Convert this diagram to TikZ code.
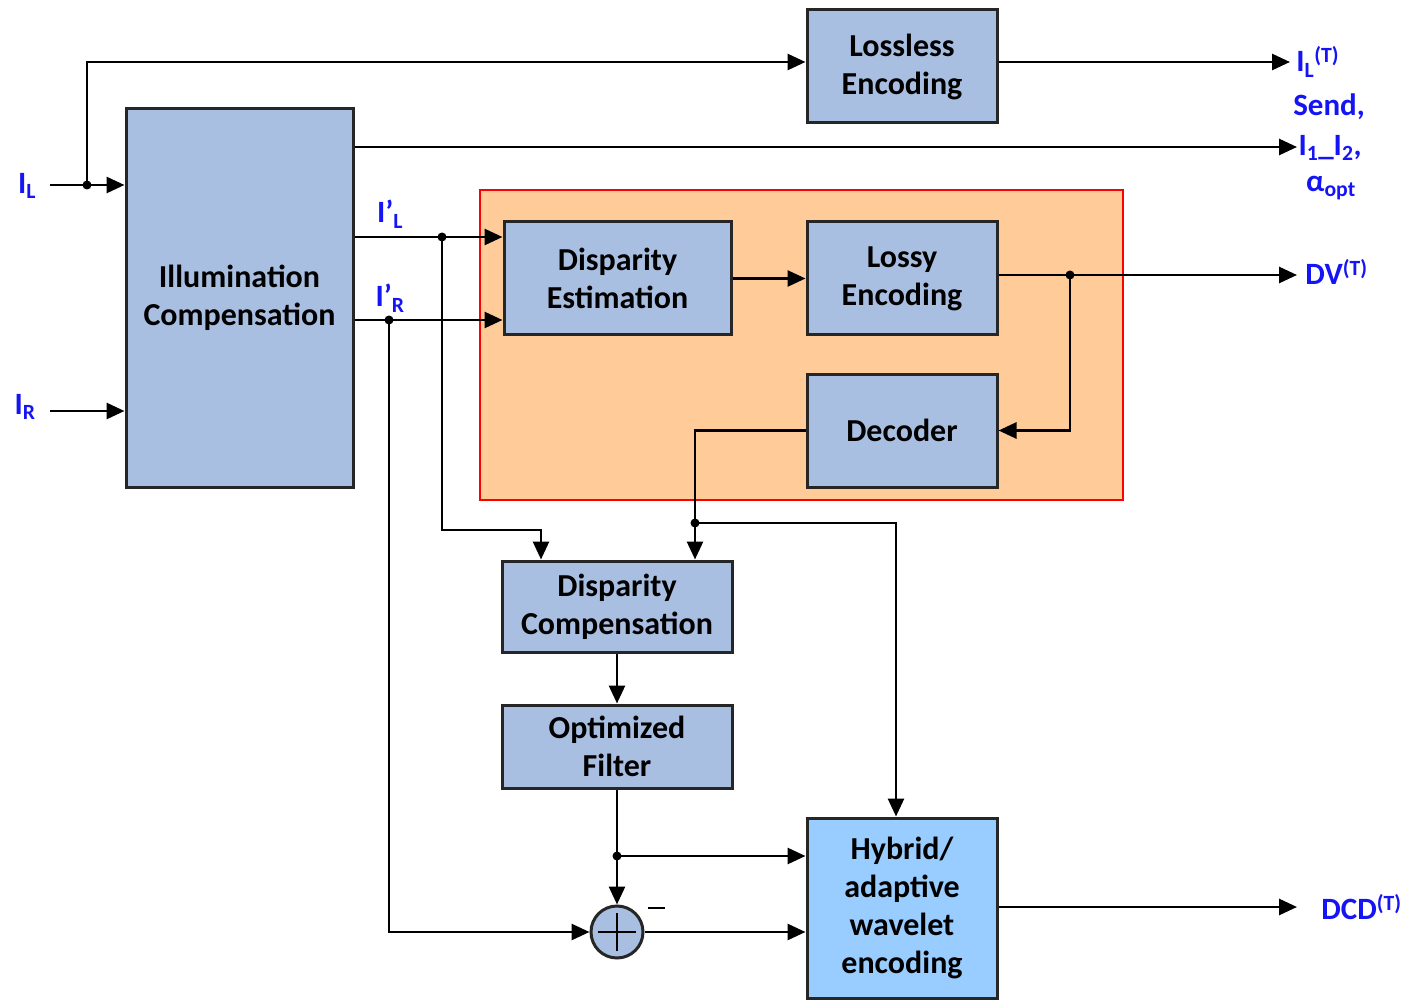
\documentclass[tikz,border=0pt]{standalone}
\usepackage{fontspec}
\setmainfont{Carlito}
\usetikzlibrary{arrows.meta}
\definecolor{boxblue}{RGB}{169,191,226}
\definecolor{hybblue}{RGB}{153,204,255}
\definecolor{zonefill}{RGB}{255,204,153}
\definecolor{sigblue}{RGB}{20,20,245}
\begin{document}
\begin{tikzpicture}[x=1pt,y=-1pt,line width=2.8pt,
  >={Triangle[length=18pt,width=16pt]},
  blk/.style={draw=black!85,line width=3pt,fill=boxblue,align=center,inner sep=0pt,
    font=\fontsize{32}{38}\selectfont\bfseries},
  lbl/.style={text=sigblue,inner sep=0pt,font=\fontsize{31}{34}\selectfont\bfseries},
  junc/.style={circle,fill=black,inner sep=0pt,minimum size=9pt}]
\useasboundingbox (0,0) rectangle (1406,1000);

% encoder zone
\draw[red,fill=zonefill,line width=2.2pt] (480,190) rectangle (1123,500);

% blocks
\node[blk,minimum width=190pt,minimum height=113pt] (loss) at (902,66.5) {Lossless\\Encoding};
\node[blk,minimum width=227pt,minimum height=378pt] (ill) at (239.5,298) {Illumination\\Compensation};
\node[blk,minimum width=227pt,minimum height=113pt] (de) at (617.5,278.5) {Disparity\\Estimation};
\node[blk,minimum width=190pt,minimum height=113pt] (le) at (902,278.5) {Lossy\\Encoding};
\node[blk,minimum width=190pt,minimum height=113pt] (dec) at (902,430.5) {Decoder};
\node[blk,minimum width=230pt,minimum height=91pt] (dc) at (617,606.5) {Disparity\\Compensation};
\node[blk,minimum width=230pt,minimum height=83pt] (of) at (617,746.5) {Optimized\\Filter};
\node[blk,fill=hybblue,minimum width=190pt,minimum height=180pt] (hyb) at (902,908) {Hybrid/\\adaptive\\wavelet\\encoding};
\node[circle,draw=black!85,fill=boxblue,line width=3pt,minimum size=52pt,inner sep=0pt] (sum) at (617,932) {};
\draw[line width=2.8pt] ([xshift=-19pt]sum.center) -- ([xshift=19pt]sum.center)
  ([yshift=-19pt]sum.center) -- ([yshift=19pt]sum.center);

% coordinates
\coordinate (inL) at (50,185);
\coordinate (inR) at (50,411);
\coordinate (jL) at (87,185);
\coordinate (outL) at (1290,62);
\coordinate (sendout) at (1297,147);
\coordinate (lp) at (442,237);
\coordinate (rp) at (389,320);
\coordinate (jdv) at (1070,275);
\coordinate (dvout) at (1297,275);
\coordinate (jdec) at (695,523);
\coordinate (hx) at (896,523);
\coordinate (lc) at (541,530);
\coordinate (jof) at (617,856);
\coordinate (dcdout) at (1297,907);

% connectors
\draw[->] (inL) -- (ill.west|-inL);
\draw[->] (jL) |- (loss.west|-outL);
\draw[->] (loss.east|-outL) -- (outL);
\draw[->] (inR) -- (ill.west|-inR);
\draw[->] (ill.east|-sendout) -- (sendout);
\draw[->] (ill.east|-lp) -- (de.west|-lp);
\draw[->] (ill.east|-rp) -- (de.west|-rp);
\draw[->] (de.east) -- (le.west);
\draw[->] (le.east|-jdv) -- (dvout);
\draw[->] (jdv) |- (dec.east);
\draw[->] (dec.west) -| (jdec) -- (dc.north-|jdec);
\draw[->] (jdec) -- (hx) -- (hyb.north-|hx);
\draw[->] (lp) |- (lc) -- (dc.north-|lc);
\draw[->] (dc.south) -- (of.north);
\draw[->] (of.south) -- (sum.north);
\draw[->] (jof) -- (hyb.west|-jof);
\draw[->] (rp) |- (sum.west);
\draw[->] (sum.east) -- (hyb.west|-sum);
\draw[->] (hyb.east|-dcdout) -- (dcdout);

% junction dots
\foreach \p in {jL,lp,rp,jdv,jdec,jof} \node[junc] at (\p) {};

% signal labels
\node[lbl] (lIL) at (27,186) {I\textsubscript{L}};
\node[lbl] (lIR) at (25,407) {I\textsubscript{R}};
\node[lbl] (lIpL) at (390,214) {I’\textsubscript{L}};
\node[lbl] (lIpR) at (390,298) {I’\textsubscript{R}};
\node[lbl,anchor=west] (lILT) at (1295,62) {I\textsubscript{L}\textsuperscript{(T)}};
\node[lbl] (lsend) at (1329,107) {Send,};
\node[lbl] (li12) at (1330,148) {I\textsubscript{1}\_I\textsubscript{2},};
\node[lbl] (lalpha) at (1331,188) {α\textsubscript{opt}};
\node[lbl,anchor=west] (ldv) at (1304,272) {DV\textsuperscript{(T)}};
\node[lbl,anchor=west] (ldcd) at (1320,907) {DCD\textsuperscript{(T)}};
% minus sign at the summing junction
\node[inner sep=0pt] (lminus) at (656,908) {\rule{17pt}{2.8pt}};
\end{tikzpicture}
\end{document}
